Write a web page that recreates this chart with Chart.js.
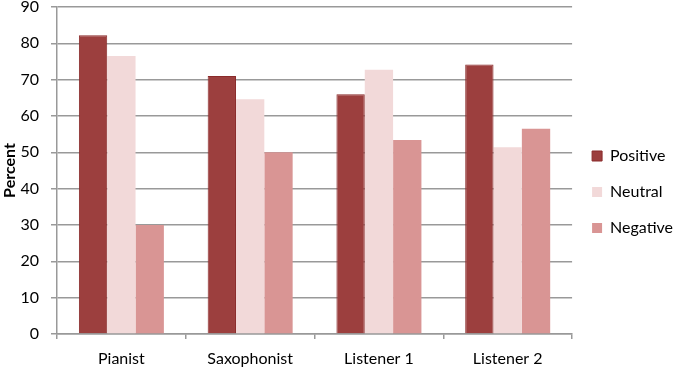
<!DOCTYPE html>
<html>
<head>
<meta charset="utf-8">
<script src="https://cdn.jsdelivr.net/npm/chart.js@4"></script>
<style>
  html, body { margin: 0; padding: 0; background: #fff; }
  #wrap { width: 680px; height: 371px; }
</style>
</head>
<body>
<div id="wrap"><canvas id="chart" width="680" height="371"></canvas></div>
<script>
// data
const categories = ["Pianist", "Saxophonist", "Listener 1", "Listener 2"];
const positive = [82.2, 71, 66, 74.2];
const neutral = [76.5, 64.6, 72.7, 51.4];
const negative = [30, 50, 53.4, 56.5];
const yTicks = [0, 10, 20, 30, 40, 50, 60, 70, 80, 90];

const font = "Lato, 'Open Sans', sans-serif";

const ctx = document.getElementById("chart").getContext("2d");
new Chart(ctx, {
  type: "bar",
  data: {
    labels: categories,
    datasets: [
      { label: "Positive", data: positive, backgroundColor: "#9c3f3e", borderColor: "#8a2b2b", borderWidth: 1 },
      { label: "Neutral", data: neutral, backgroundColor: "#f2d9d9", borderColor: "#f2d9d9", borderWidth: 0 },
      { label: "Negative", data: negative, backgroundColor: "#d99594", borderColor: "#d99594", borderWidth: 0 }
    ]
  },
  options: {
    responsive: false,
    animation: false,
    devicePixelRatio: 1,
    layout: { padding: { top: 7, right: -3, bottom: 0, left: 0 } },
    datasets: { bar: { categoryPercentage: 0.66, barPercentage: 1.0 } },
    plugins: {
      legend: {
        position: "right",
        align: "center",
        // blank title just nudges the items down a bit
        title: { display: true, text: " ", padding: 0, font: { size: 5 } },
        labels: {
          boxWidth: 10,
          boxHeight: 10,
          padding: 20,
          color: "#000",
          font: { family: font, size: 16 }
        }
      },
      tooltip: { enabled: false }
    },
    scales: {
      x: {
        afterFit: (axis) => { axis.height = 37; axis.paddingRight = 0; },
        grid: { drawOnChartArea: false, drawTicks: true, tickLength: 5, color: "#999", lineWidth: 1.5 },
        border: { color: "#999", width: 1.5 },
        ticks: { color: "#000", font: { family: font, size: 16 }, padding: 10 }
      },
      y: {
        min: 0,
        max: 90,
        afterBuildTicks: (axis) => { axis.ticks = yTicks.map(v => ({ value: v })); },
        afterFit: (axis) => { axis.paddingTop = 0; axis.width = 57; },
        grid: { color: "#999", lineWidth: 1.5, tickLength: 6 },
        border: { color: "#999", width: 1.5 },
        ticks: { color: "#000", font: { family: font, size: 16 }, padding: 12 },
        title: { display: true, text: "Percent", color: "#000", font: { family: font, size: 16, weight: "bold" }, padding: 0 }
      }
    }
  }
});
</script>
</body>
</html>
